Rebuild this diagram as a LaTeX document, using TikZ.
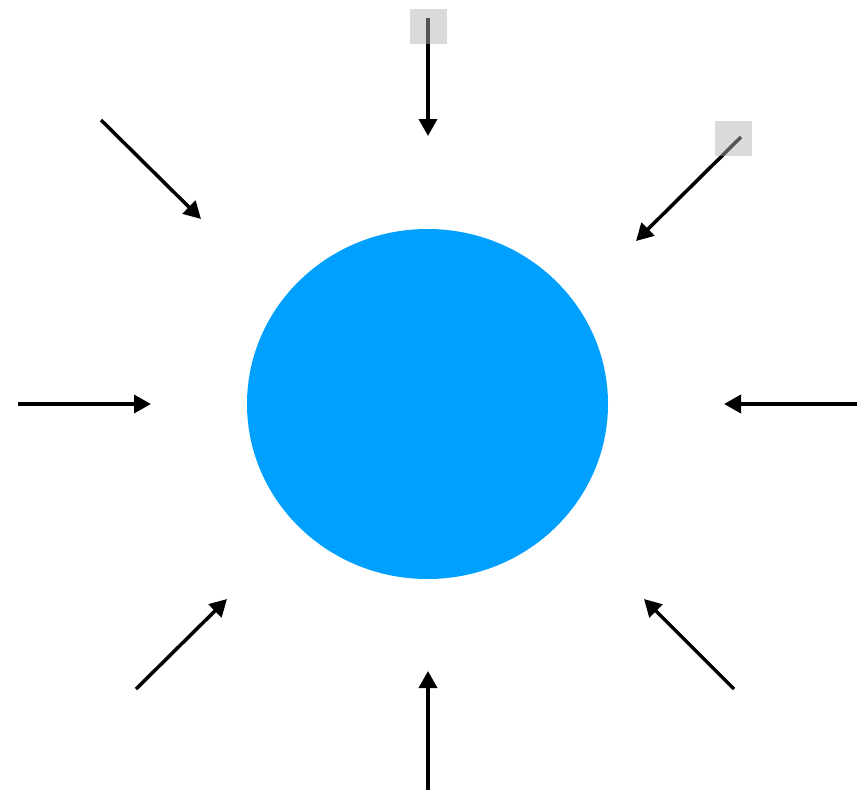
\documentclass[tikz,border=0pt]{standalone}
\usetikzlibrary{arrows.meta,shapes.geometric}
\definecolor{sunblue}{RGB}{0,160,255}
\definecolor{markgray}{RGB}{177,177,177}
\tikzset{
  ray/.style={line width=3.5pt,-{Triangle[length=17pt,width=18pt]}},
  markbox/.style={fill=markgray,opacity=0.48}
}
\begin{document}
\begin{tikzpicture}[x=1pt,y=-1pt]
    \useasboundingbox (0,0) rectangle (865,790);

    % kruh
    \node[ellipse,fill=sunblue,minimum width=361pt,minimum height=350pt,inner sep=0pt] (sun) at (427.5,404) {};

    % začátky a konce šipek
    \coordinate (nS) at (428,18);    \coordinate (nE) at (428,136);
    \coordinate (nwS) at (101,120);  \coordinate (nwE) at (201,219);
    \coordinate (neS) at (741,137);  \coordinate (neE) at (636,241);
    \coordinate (wS) at (18,404);    \coordinate (wE) at (151,404);
    \coordinate (eS) at (857,404);   \coordinate (eE) at (724,404);
    \coordinate (swS) at (136,689);  \coordinate (swE) at (227,599);
    \coordinate (seS) at (734,689);  \coordinate (seE) at (644,599);
    \coordinate (sS) at (428,790);   \coordinate (sE) at (428,671);

    % šipky
    \foreach \d in {n,nw,ne,w,e,sw,se,s}
        \draw[ray] (\d S) -- (\d E);

    % šedé čtverečky
    \fill[markbox] (410,9) rectangle (447,44);
    \fill[markbox] (715,121) rectangle (752,156);
\end{tikzpicture}
\end{document}
